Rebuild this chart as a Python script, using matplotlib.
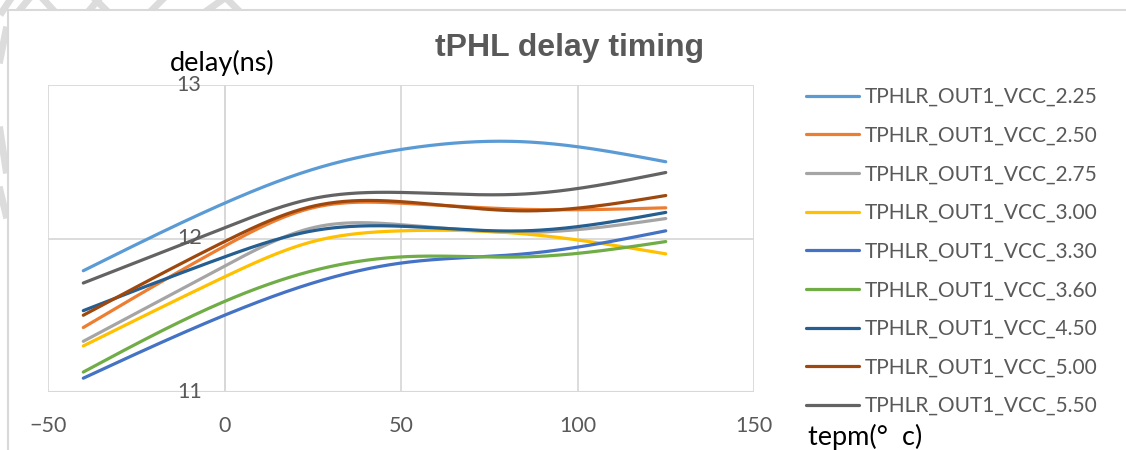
import numpy as np
import matplotlib
matplotlib.use('Agg')
from matplotlib import pyplot as plt
from matplotlib.lines import Line2D
from matplotlib.patches import Rectangle

# temperatures (deg C) and delays (ns)
temps = [-40, 0, 25, 50, 85, 125]
vcc_225 = [11.79, 12.23, 12.45, 12.58, 12.63, 12.50]
vcc_250 = [11.42, 11.95, 12.20, 12.23, 12.19, 12.20]
vcc_275 = [11.33, 11.82, 12.07, 12.09, 12.04, 12.13]
vcc_300 = [11.30, 11.75, 11.98, 12.05, 12.03, 11.90]
vcc_330 = [11.09, 11.50, 11.71, 11.84, 11.90, 12.05]
vcc_360 = [11.13, 11.59, 11.79, 11.88, 11.88, 11.98]
vcc_450 = [11.53, 11.88, 12.05, 12.08, 12.05, 12.17]
vcc_500 = [11.50, 11.98, 12.21, 12.24, 12.18, 12.28]
vcc_550 = [11.71, 12.07, 12.26, 12.30, 12.29, 12.43]

names = ['TPHLR_OUT1_VCC_2.25', 'TPHLR_OUT1_VCC_2.50', 'TPHLR_OUT1_VCC_2.75',
         'TPHLR_OUT1_VCC_3.00', 'TPHLR_OUT1_VCC_3.30', 'TPHLR_OUT1_VCC_3.60',
         'TPHLR_OUT1_VCC_4.50', 'TPHLR_OUT1_VCC_5.00', 'TPHLR_OUT1_VCC_5.50']
series = [vcc_225, vcc_250, vcc_275, vcc_300, vcc_330, vcc_360, vcc_450, vcc_500, vcc_550]
colors = ['#5B9BD5', '#ED7D31', '#A5A5A5', '#FFC000', '#4472C4',
          '#70AD47', '#255E91', '#9E480E', '#636363']

x_ticks = [-50, 0, 50, 100, 150]
y_ticks = [11, 12, 13]

W, H = 1126, 450
plt.rcParams['font.family'] = ['Lato', 'DejaVu Sans']


def smooth(xs, ys, n=300):
    # natural cubic spline through the points (smoothed line look)
    x = np.asarray(xs, float)
    y = np.asarray(ys, float)
    k = len(x)
    h = np.diff(x)
    A = np.zeros((k, k))
    r = np.zeros(k)
    A[0, 0] = A[-1, -1] = 1
    for i in range(1, k - 1):
        A[i, i - 1] = h[i - 1]
        A[i, i] = 2 * (h[i - 1] + h[i])
        A[i, i + 1] = h[i]
        r[i] = 6 * ((y[i + 1] - y[i]) / h[i] - (y[i] - y[i - 1]) / h[i - 1])
    M = np.linalg.solve(A, r)
    xx = np.linspace(x[0], x[-1], n)
    j = np.clip(np.searchsorted(x, xx) - 1, 0, k - 2)
    t0 = x[j + 1] - xx
    t1 = xx - x[j]
    hj = h[j]
    yy = (M[j] * t0 ** 3 + M[j + 1] * t1 ** 3) / (6 * hj) \
        + (y[j] / hj - M[j] * hj / 6) * t0 + (y[j + 1] / hj - M[j + 1] * hj / 6) * t1
    return xx, yy


fig = plt.figure(figsize=(W / 100, H / 100), dpi=100)

# faint watermark strokes in the margin
wm = '#DCDCDC'
for (x0, y0, x1, y1) in [(2, 12, 10, 0), (18, 12, 28, 0), (55, 12, 44, 0), (88, 12, 98, 0),
                         (108, 12, 96, 0), (150, 12, 162, 0), (205, 12, 222, 0),
                         (240, 12, 228, 0), (0, 60, 6, 30), (0, 130, 6, 170), (0, 190, 6, 215)]:
    fig.add_artist(Line2D([x0 / W, x1 / W], [1 - y0 / H, 1 - y1 / H], color=wm, lw=5, zorder=0))

# chart frame
fig.add_artist(Rectangle((8 / W, -0.1), 1.2, 1 - 10 / H + 0.1, facecolor='white',
                         edgecolor='#D9D9D9', lw=1.5, zorder=1))

ax = fig.add_axes([48 / W, 58 / H, 706 / W, 307 / H])
ax.set_zorder(2)
ax.set_xlim(-50, 150)
ax.set_ylim(11, 13)
ax.set_xticks(x_ticks)
ax.set_yticks(y_ticks)
ax.grid(True, color='#D9D9D9', lw=1.3)
ax.set_axisbelow(True)
for s in ax.spines.values():
    s.set_visible(False)
ax.axvline(0, color='#D0D0D0', lw=1.3, zorder=0.5)
ax.axhline(11, color='#D0D0D0', lw=1.5, zorder=0.5)
ax.tick_params(length=0, colors='#595959', labelsize=15.5, pad=17)
ax.set_yticklabels([])
for v in y_ticks:
    ax.text(-6.5, v, str(v), ha='right', va='center', fontsize=15.5, color='#595959')

for name, vals, c in zip(names, series, colors):
    sx, sy = smooth(temps, vals)
    ax.plot(sx, sy, color=c, lw=2.3, label=name, solid_capstyle='round')

fig.text(570 / W, 1 - 48 / H, 'tPHL delay timing', ha='center', va='center',
         fontsize=23, fontweight='bold', color='#595959', family=['Liberation Sans', 'DejaVu Sans'])
fig.text(222 / W, 1 - 63 / H, 'delay(ns)', ha='center', va='center', fontsize=19.5, color='black')
fig.text(808 / W, 1 - 437 / H, 'tepm(°  c)', ha='left', va='center', fontsize=19.5, color='black')

fig.legend(loc='upper left', bbox_to_anchor=(806 / W, 1 - 87 / H), frameon=False,
           fontsize=15, labelcolor='#595959', handlelength=2.55, handletextpad=0.25,
           labelspacing=0.895, borderaxespad=0, borderpad=0)

fig.savefig('out.png', dpi=100, facecolor='white')
